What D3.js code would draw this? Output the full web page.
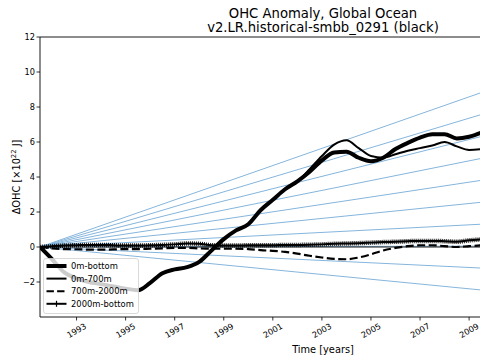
<!DOCTYPE html>
<html><head><meta charset="utf-8">
<script src="https://cdn.jsdelivr.net/npm/d3@7"></script>
<style>
body{margin:0;background:#fff;}
svg{display:block;font-family:"DejaVu Sans",sans-serif;}
</style></head>
<body><svg id="c" width="480" height="360"></svg>
<script>
// ---- data ----
const years = [1991.51,1992,1992.5,1993,1993.5,1994,1994.5,1995,1995.5,1996,1996.5,1997,1997.5,1998,1998.5,1999,1999.5,2000,2000.5,2001,2001.5,2002,2002.5,2003,2003.5,2004,2004.5,2005,2005.5,2006,2006.5,2007,2007.5,2008,2008.5,2009,2009.6];
const ohc0mBottom = [0,-0.7,-1.45,-1.8,-2.0,-2.12,-2.25,-2.38,-2.47,-2.05,-1.5,-1.28,-1.15,-0.85,-0.2,0.45,0.95,1.3,2.1,2.7,3.3,3.75,4.3,4.95,5.4,5.45,5.1,4.9,5.1,5.6,5.95,6.25,6.45,6.45,6.2,6.3,6.6];
const ohc0m700m   = [0,-0.7,-1.45,-1.8,-2.0,-2.12,-2.25,-2.38,-2.47,-2.05,-1.5,-1.28,-1.15,-0.85,-0.2,0.45,0.95,1.3,2.1,2.7,3.3,3.75,4.45,5.2,5.85,6.1,5.65,5.2,5.1,5.3,5.5,5.65,5.8,6.0,5.75,5.55,5.6];
const ohc700m2000m= [0,-0.08,-0.12,-0.13,-0.15,-0.15,-0.14,-0.12,-0.12,-0.1,-0.08,-0.05,-0.05,-0.08,-0.1,-0.1,-0.1,-0.12,-0.18,-0.22,-0.28,-0.38,-0.5,-0.6,-0.68,-0.7,-0.6,-0.42,-0.2,-0.05,0.05,0.1,0.1,0.05,0.0,0.05,0.1];
const ohc2000mBot = [0,0.05,0.08,0.1,0.12,0.12,0.1,0.08,0.08,0.1,0.12,0.15,0.2,0.18,0.1,0.08,0.08,0.1,0.1,0.1,0.12,0.12,0.13,0.15,0.18,0.2,0.22,0.25,0.28,0.3,0.33,0.35,0.35,0.33,0.3,0.38,0.44];
const trendEndYear = 2009.45;
const trendEndValues = [8.8,7.55,6.3,5.05,3.8,2.55,1.3,0.05,-1.2,-2.45];
const seriesNames = ["0m-bottom","0m-700m","700m-2000m","2000m-bottom"];
const xTicks = [1993,1995,1997,1999,2001,2003,2005,2007,2009];
const yTicks = [-2,0,2,4,6,8,10,12];
const titleLines = ["OHC Anomaly, Global Ocean","v2.LR.historical-smbb_0291 (black)"];

// ---- layout ----
const svg = d3.select("#c");
const L = 40, R = 606, T = 37, B = 317;
const x = d3.scaleLinear().domain([1991.51, 2014.58]).range([L, R]);
const y = d3.scaleLinear().domain([-4, 12]).range([B, T]);

svg.append("defs").append("clipPath").attr("id","pc")
  .append("rect").attr("x",L).attr("y",T).attr("width",R-L).attr("height",B-T);
const plot = svg.append("g").attr("clip-path","url(#pc)");

// trend lines
trendEndValues.forEach(v=>{
  plot.append("line")
    .attr("x1",x(years[0])).attr("y1",y(0))
    .attr("x2",x(trendEndYear)).attr("y2",y(v))
    .attr("stroke","#85b5dc").attr("stroke-width",1);
});
// zero line
plot.append("line").attr("x1",L).attr("x2",R).attr("y1",y(0)).attr("y2",y(0))
  .attr("stroke","#000").attr("stroke-width",0.9);

const line = d3.line().x((d,i)=>x(years[i])).y(d=>y(d)).curve(d3.curveMonotoneX);

plot.append("path").attr("d",line(ohc0mBottom)).attr("fill","none")
  .attr("stroke","#000").attr("stroke-width",4).attr("stroke-linejoin","round");
plot.append("path").attr("d",line(ohc0m700m)).attr("fill","none")
  .attr("stroke","#000").attr("stroke-width",2).attr("stroke-linejoin","round");
plot.append("path").attr("d",line(ohc700m2000m)).attr("fill","none")
  .attr("stroke","#000").attr("stroke-width",2.2).attr("stroke-dasharray","8,3.5");
plot.append("path").attr("d",line(ohc2000mBot)).attr("fill","none")
  .attr("stroke","#000").attr("stroke-width",2);
// "+" markers rendered as dense vertical ticks along the line
plot.append("path").attr("d",line(ohc2000mBot)).attr("fill","none")
  .attr("stroke","#000").attr("stroke-width",4.5).attr("stroke-dasharray","0.9,1.1");

// spines
svg.append("line").attr("x1",L).attr("x2",L).attr("y1",T).attr("y2",B).attr("stroke","#000").attr("stroke-width",0.9);
svg.append("line").attr("x1",L).attr("x2",R).attr("y1",T).attr("y2",T).attr("stroke","#000").attr("stroke-width",0.9);
svg.append("line").attr("x1",L).attr("x2",R).attr("y1",B).attr("y2",B).attr("stroke","#000").attr("stroke-width",0.9);

// y axis
const fmt = d => d<0 ? "\u2212"+Math.abs(d) : String(d);
yTicks.forEach(t=>{
  svg.append("line").attr("x1",L-3.5).attr("x2",L).attr("y1",y(t)).attr("y2",y(t)).attr("stroke","#000").attr("stroke-width",0.8);
  svg.append("text").attr("x",L-5).attr("y",y(t)).attr("dy","0.35em")
    .attr("text-anchor","end").attr("font-size",8.2).attr("fill","#000").text(fmt(t));
});
// x axis
xTicks.forEach(t=>{
  svg.append("line").attr("x1",x(t)).attr("x2",x(t)).attr("y1",B).attr("y2",B+3.5).attr("stroke","#000").attr("stroke-width",0.8);
  const cx = x(t), cy = 330.5;
  svg.append("text").attr("x",cx).attr("y",cy).attr("dy","0.35em")
    .attr("text-anchor","middle").attr("font-size",8.2).attr("fill","#000")
    .attr("transform",`rotate(-30,${cx},${cy})`).text(t);
});

// labels
svg.append("text").attr("x",(L+R)/2).attr("y",352.5).attr("text-anchor","middle")
  .attr("font-size",9.8).text("Time [years]");
const yl = svg.append("text").attr("transform","translate(19.5,177) rotate(-90)")
  .attr("text-anchor","middle").attr("font-size",9.8);
yl.append("tspan").text("\u0394OHC [\u00d710");
yl.append("tspan").attr("font-size",6.8).attr("dy",-3.5).text("22");
yl.append("tspan").attr("dy",3.5).text(" J]");

// title
titleLines.forEach((s,i)=>{
  svg.append("text").attr("x",(L+R)/2).attr("y",17.5+i*14.2).attr("text-anchor","middle")
    .attr("font-size",13.2).attr("fill","#000").text(s);
});

// legend
const lg = svg.append("g");
lg.append("rect").attr("x",43.5).attr("y",258.5).attr("width",95).attr("height",55).attr("rx",2.5)
  .attr("fill","#fff").attr("fill-opacity",0.8).attr("stroke","#d0d0d0").attr("stroke-width",0.8);
const ly = [266,278.6,291.2,303.8];
const hs = [{w:4},{w:2},{w:2,dash:"7.4,3.2"},{w:2,mark:true}];
seriesNames.forEach((n,i)=>{
  const h = lg.append("line").attr("x1",46.5).attr("x2",66.5).attr("y1",ly[i]).attr("y2",ly[i])
    .attr("stroke","#000").attr("stroke-width",hs[i].w);
  if(hs[i].dash) h.attr("stroke-dasharray",hs[i].dash);
  if(hs[i].mark) lg.append("line").attr("x1",56.5).attr("x2",56.5).attr("y1",ly[i]-3).attr("y2",ly[i]+3)
    .attr("stroke","#000").attr("stroke-width",1.2);
  lg.append("text").attr("x",71).attr("y",ly[i]).attr("dy","0.35em").attr("font-size",8.4).text(n);
});
</script></body></html>
